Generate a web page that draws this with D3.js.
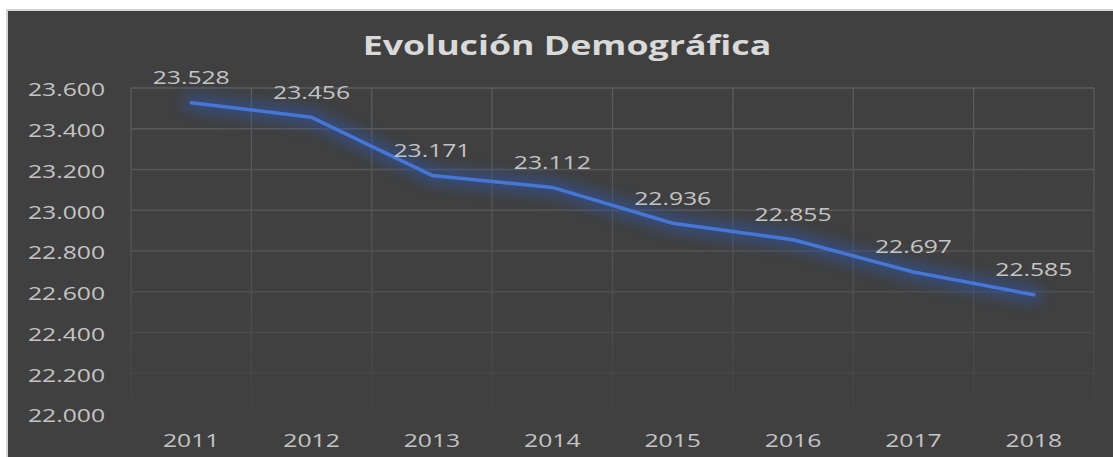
<!DOCTYPE html>
<html><head><meta charset="utf-8">
<script src="https://cdn.jsdelivr.net/npm/d3@7"></script>
<style>html,body{margin:0;padding:0;background:#fff;overflow:hidden}</style>
</head><body>
<svg id="c" width="1113" height="457"></svg>
<script>
const title = "Evolución Demográfica";
const years = ["2011","2012","2013","2014","2015","2016","2017","2018"];
const population = [23528, 23456, 23171, 23112, 22936, 22855, 22697, 22585];
const yTicks = [22000, 22200, 22400, 22600, 22800, 23000, 23200, 23400, 23600];

const W = 1113, H = 457;
const m = {left:131, right:1094, top:88, bottom:414};
const loc = d3.formatLocale({decimal:",", thousands:".", grouping:[3], currency:["","€"]});
const fmt = loc.format(",");
const SX = 1.3;
const FONT = "'Open Sans', 'Noto Sans', sans-serif";

const svg = d3.select("#c");
const defs = svg.append("defs");
const g1 = defs.append("linearGradient").attr("id","gridFade")
  .attr("gradientUnits","userSpaceOnUse").attr("x1",0).attr("x2",0).attr("y1",m.top).attr("y2",m.bottom);
g1.append("stop").attr("offset",0).attr("stop-color","#5c5c5c");
g1.append("stop").attr("offset",0.55).attr("stop-color","#525252");
g1.append("stop").attr("offset",1).attr("stop-color","#424242");
const f = defs.append("filter").attr("id","glow").attr("x","-20%").attr("y","-50%").attr("width","140%").attr("height","200%");
f.append("feGaussianBlur").attr("stdDeviation",7);

svg.append("rect").attr("x",0).attr("y",0).attr("width",W).attr("height",H).attr("fill","#ffffff");
svg.append("rect").attr("x",6).attr("y",9).attr("width",W).attr("height",H).attr("fill","#d4d4d4");
svg.append("rect").attr("x",8).attr("y",11).attr("width",W).attr("height",H).attr("fill","#404040");

const x = d3.scaleBand().domain(years).range([m.left, m.right]).padding(0);
const y = d3.scaleLinear().domain([22000, 23600]).range([m.bottom, m.top]);

// grid
const grid = svg.append("g").attr("stroke","url(#gridFade)").attr("stroke-width",1.3);
grid.selectAll("line.h").data(yTicks).join("line").attr("class","h")
  .attr("x1",m.left).attr("x2",m.right).attr("y1",d=>y(d)).attr("y2",d=>y(d));
const vb = years.map(d=>x(d)).concat([x(years[years.length-1])+x.bandwidth()]);
grid.selectAll("line.v").data(vb).join("line").attr("class","v")
  .attr("x1",d=>d).attr("x2",d=>d).attr("y1",m.top).attr("y2",m.bottom);

// y axis labels
const yAxis = d3.axisLeft(y).tickValues(yTicks).tickFormat(fmt).tickSize(0).tickPadding(0);
const ya = svg.append("g").attr("transform","translate(105,0)").call(yAxis);
ya.select(".domain").remove();
ya.selectAll("text").attr("fill","#c4c4c4").attr("font-family",FONT).attr("font-size",19)
  .attr("x",0).attr("dy",null).attr("dominant-baseline","central")
  .attr("transform",`scale(${SX},1)`);

// x axis labels
const xAxis = d3.axisBottom(x).tickSize(0).tickPadding(0);
const xa = svg.append("g").attr("transform","translate(0,447)").call(xAxis);
xa.select(".domain").remove();
xa.selectAll("text").attr("fill","#c4c4c4").attr("font-family",FONT).attr("font-size",19)
  .attr("y",0).attr("dy",null).attr("transform",`scale(${SX},1)`);

// line
const line = d3.line().x((d,i)=>x(years[i])+x.bandwidth()/2).y(d=>y(d));
svg.append("path").datum(population).attr("d",line).attr("fill","none")
  .attr("stroke","#2f55a8").attr("stroke-opacity",0.6).attr("stroke-width",16)
  .attr("stroke-linecap","round").attr("stroke-linejoin","round").attr("filter","url(#glow)");
svg.append("path").datum(population).attr("d",line).attr("fill","none")
  .attr("stroke","#4677d6").attr("stroke-width",3.5)
  .attr("stroke-linecap","round").attr("stroke-linejoin","round");

// data labels
svg.append("g").selectAll("text").data(population).join("text")
  .attr("transform",(d,i)=>`translate(${x(years[i])+x.bandwidth()/2},${y(d)-18.5}) scale(${SX},1)`)
  .attr("text-anchor","middle").attr("fill","#c4c4c4").attr("font-family",FONT).attr("font-size",19)
  .text(d=>fmt(d));

// title
svg.append("text").attr("transform",`translate(567,55) scale(${SX},1)`)
  .attr("text-anchor","middle").attr("fill","#d9d9d9").attr("font-family",FONT)
  .attr("font-weight","bold").attr("font-size",27.5).text(title);
</script>
</body></html>
